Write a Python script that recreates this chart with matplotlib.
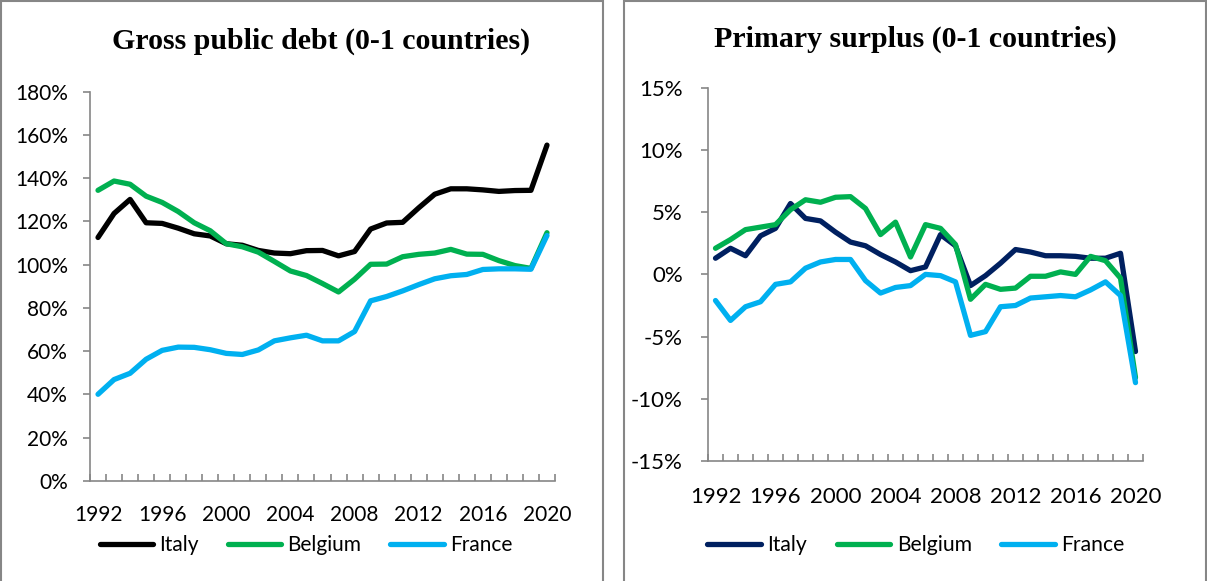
import matplotlib
matplotlib.use("Agg")
import matplotlib.pyplot as plt
from matplotlib.patches import Rectangle
from matplotlib.ticker import FuncFormatter, FixedLocator
import numpy as np

#%%
# ---------------------------- data --------------------------------------- #
years = list(range(1992, 2021))
year_labels = [str(y) for y in years[::4]]

# gross public debt, % of GDP
debt_italy = [112.6, 123.7, 130.2, 119.4, 119.1, 116.9, 114.3, 113.3, 109.7, 109.0,
              106.6, 105.4, 105.1, 106.5, 106.6, 104.1, 106.1, 116.5, 119.3, 119.6,
              126.3, 132.6, 135.1, 135.1, 134.6, 133.9, 134.3, 134.4, 155.3]
debt_belgium = [134.4, 138.7, 137.2, 131.7, 128.8, 124.6, 119.4, 115.7, 109.7, 108.3,
                105.8, 101.5, 97.1, 95.0, 91.3, 87.4, 93.3, 100.2, 100.3, 103.7,
                104.8, 105.4, 107.1, 104.9, 104.8, 101.9, 99.6, 98.3, 114.8]
debt_france = [40.1, 46.9, 49.8, 56.3, 60.4, 61.9, 61.8, 60.7, 59.0, 58.5,
               60.6, 64.8, 66.2, 67.4, 64.8, 64.8, 69.1, 83.3, 85.3, 87.9,
               90.8, 93.5, 94.9, 95.5, 97.8, 98.1, 98.1, 97.9, 113.5]

# primary surplus, % of GDP
ps_italy = [1.3, 2.1, 1.5, 3.1, 3.7, 5.7, 4.5, 4.3, 3.4, 2.6,
            2.3, 1.6, 1.0, 0.3, 0.6, 3.2, 2.3, -0.9, -0.1, 0.9,
            2.0, 1.8, 1.5, 1.5, 1.45, 1.3, 1.3, 1.7, -6.2]
ps_belgium = [2.1, 2.8, 3.6, 3.8, 4.0, 5.2, 6.0, 5.8, 6.2, 6.25,
              5.3, 3.2, 4.2, 1.4, 4.0, 3.7, 2.4, -2.0, -0.8, -1.2,
              -1.1, -0.15, -0.15, 0.2, 0.0, 1.45, 1.1, -0.3, -8.3]
ps_france = [-2.1, -3.7, -2.6, -2.2, -0.8, -0.6, 0.5, 1.0, 1.2, 1.2,
             -0.5, -1.5, -1.05, -0.9, 0.0, -0.1, -0.6, -4.9, -4.6, -2.6,
             -2.5, -1.9, -1.8, -1.7, -1.8, -1.25, -0.6, -1.7, -8.7]

#%%
# ---------------------------- styling ------------------------------------ #
W, H = 1207, 581
GREY = "#868686"
C_GREEN = "#00B050"
C_BLUE = "#00B0F0"
LW = 3.8
plt.rcParams["font.family"] = ["Lato", "DejaVu Sans"]

fig = plt.figure(figsize=(W / 100, H / 100), dpi=100)


def px_axes(x0, x1, ytop, ybot):
    # axes placed by pixel edges
    return fig.add_axes([x0 / W, 1 - ybot / H, (x1 - x0) / W, (ybot - ytop) / H])


def panel_frame(x0, x1):
    fig.patches.append(Rectangle((x0 / W, -0.1), (x1 - x0) / W, 1.1 - 1 / H,
                                 transform=fig.transFigure, fill=False,
                                 edgecolor=GREY, linewidth=1.5))


def style_axes(ax, fs, ypad, xpad):
    n = len(years)
    ax.set_xlim(-0.5, n - 0.5)
    for s in ("top", "right"):
        ax.spines[s].set_visible(False)
    for s in ("left", "bottom"):
        ax.spines[s].set_color(GREY)
        ax.spines[s].set_linewidth(1.2)
    # tick marks between the categories, labels every 4 years
    ax.xaxis.set_major_locator(FixedLocator(np.arange(-0.5, n, 1.0)))
    ax.xaxis.set_major_formatter(FuncFormatter(lambda v, p: ""))
    ax.xaxis.set_minor_locator(FixedLocator(np.arange(0, n, 4)))
    ax.set_xticks(np.arange(0, n, 4), year_labels, minor=True)
    ax.tick_params(axis="x", which="major", direction="in", length=5,
                   color=GREY, width=1.2)
    ax.tick_params(axis="x", which="minor", length=0, pad=xpad, labelsize=fs)
    ax.tick_params(axis="y", direction="out", length=5, color=GREY, width=1.2,
                   pad=ypad, labelsize=fs)
    ax.set_facecolor("none")


def add_legend(ax, handles, cx, cy, fs):
    ax.legend(handles, ["Italy", "Belgium", "France"], loc="center",
              bbox_to_anchor=(cx / W, 1 - cy / H), bbox_transform=fig.transFigure,
              ncol=3, frameon=False, fontsize=fs, handlelength=2.55,
              handletextpad=0.3, columnspacing=1.4, borderpad=0)


x = np.arange(len(years))
line_kw = dict(linewidth=LW, solid_capstyle="round", solid_joinstyle="round")

#%%
# ---------------------------- left: gross public debt -------------------- #
panel_frame(1, 603)
ax1 = px_axes(90, 555, 91.7, 481)
h1 = ax1.plot(x, debt_italy, color="black", **line_kw)[0]
h2 = ax1.plot(x, debt_belgium, color=C_GREEN, **line_kw)[0]
h3 = ax1.plot(x, debt_france, color=C_BLUE, **line_kw)[0]
ax1.set_ylim(0, 180)
ax1.set_yticks(np.arange(0, 181, 20))
ax1.yaxis.set_major_formatter(FuncFormatter(lambda v, p: f"{v:.0f}%"))
style_axes(ax1, 15, 11, 17)
add_legend(ax1, [h1, h2, h3], 306, 545, 15)
fig.text(321 / W, 1 - 41 / H, "Gross public debt (0-1 countries)",
         family="Liberation Serif", weight="bold", fontsize=21.5,
         ha="center", va="center")

#%%
# ---------------------------- right: primary surplus --------------------- #
panel_frame(624.5, 1206)
ax2 = px_axes(708, 1143, 87.8, 461)
g1 = ax2.plot(x, ps_italy, color="#002060", **line_kw)[0]
g2 = ax2.plot(x, ps_belgium, color=C_GREEN, **line_kw)[0]
g3 = ax2.plot(x, ps_france, color=C_BLUE, **line_kw)[0]
ax2.set_ylim(-15, 15)
ax2.set_yticks(np.arange(-15, 16, 5))
ax2.yaxis.set_major_formatter(FuncFormatter(lambda v, p: f"{v:.0f}%"))
style_axes(ax2, 16, 13, 19)
add_legend(ax2, [g1, g2, g3], 916, 545, 15.2)
fig.text(915 / W, 1 - 39 / H, "Primary surplus (0-1 countries)",
         family="Liberation Serif", weight="bold", fontsize=21.5,
         ha="center", va="center")

fig.savefig("out.png", dpi=100)
